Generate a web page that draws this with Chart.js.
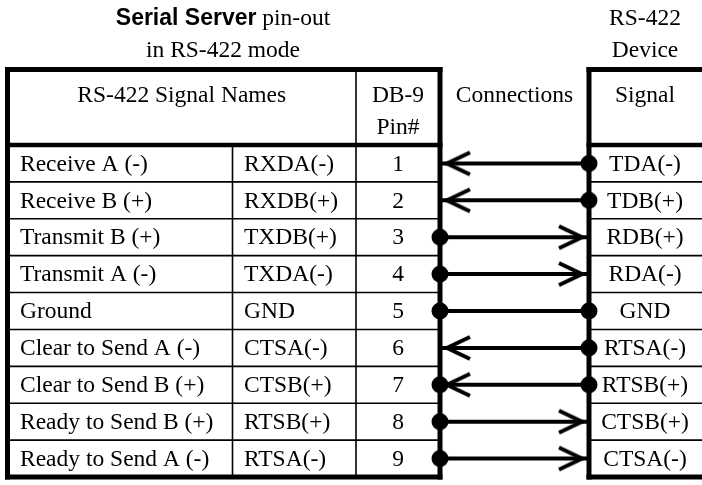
<!DOCTYPE html>
<html><head><meta charset="utf-8">
<script src="https://cdn.jsdelivr.net/npm/chart.js@4"></script>
<style>html,body{margin:0;padding:0;background:#fff}#wrap{width:702px;height:485px}</style>
</head><body><div id="wrap"><canvas id="c" width="702" height="485"></canvas></div>
<script>
// ---- data ----
const pins = ['1','2','3','4','5','6','7','8','9'];
const signalNames = ['Receive A (-)','Receive B (+)','Transmit B (+)','Transmit A (-)','Ground','Clear to Send A (-)','Clear to Send B (+)','Ready to Send B (+)','Ready to Send A (-)'];
const signalCodes = ['RXDA(-)','RXDB(+)','TXDB(+)','TXDA(-)','GND','CTSA(-)','CTSB(+)','RTSB(+)','RTSA(-)'];
const deviceSignals = ['TDA(-)','TDB(+)','RDB(+)','RDA(-)','GND','RTSA(-)','RTSB(+)','CTSB(+)','CTSA(-)'];
const serverEnd = ['arrow','arrow','dot','dot','dot','arrow','dot+arrow','dot','dot'];
const deviceEnd = ['dot','dot','arrow','arrow','dot','dot','dot','arrow','arrow'];
const titleBold = 'Serial Server';
const titleRest = ' pin-out';
const titleLine2 = 'in RS-422 mode';
const deviceTitle = ['RS-422','Device'];
const headNames = 'RS-422 Signal Names';
const headPin = ['DB-9','Pin#'];
const headConn = 'Connections';
const headSignal = 'Signal';

// ---- styles ----
const FS = 23.5;
const SERIF = FS + 'px "Liberation Serif", "Times New Roman", serif';
const SANSB = 'bold 23px "Liberation Sans", Arial, sans-serif';
const THICK = 5, THIN = 1.6;
const X_LEFT = 7.5, X_COL2 = 232.5, X_COL3 = 356, X_RIGHT = 702;
const Y_TOP = 69.5;

function glyph(kind, side) {
  const c = document.createElement('canvas');
  c.width = 80; c.height = 40;
  const g = c.getContext('2d');
  const cx = 40, cy = 20;
  g.fillStyle = '#000'; g.strokeStyle = '#000';
  if (kind.indexOf('dot') >= 0) {
    g.beginPath(); g.arc(cx, cy, 8.5, 0, Math.PI * 2); g.fill();
  }
  if (kind.indexOf('arrow') >= 0) {
    const s = side === 'server' ? 1 : -1;
    const vx = cx + s * 7;
    g.lineWidth = 4; g.lineJoin = 'miter'; g.lineCap = 'butt';
    g.beginPath();
    g.moveTo(vx + s * 23, cy - 11);
    g.lineTo(vx, cy);
    g.lineTo(vx + s * 23, cy + 11);
    g.stroke();
  }
  return c;
}

const datasets = pins.map((p, i) => ({
  data: [{x: 0, y: p}, {x: 1, y: p}],
  borderColor: '#000',
  borderWidth: 4,
  pointStyle: [glyph(serverEnd[i], 'server'), glyph(deviceEnd[i], 'device')],
  pointRadius: 8,
  pointHoverRadius: 8,
  pointBorderWidth: 0,
  backgroundColor: '#000',
  clip: false
}));

const tablePlugin = {
  id: 'table',
  afterDatasetsDraw(chart) {
    const ctx = chart.ctx;
    const a = chart.chartArea;
    const ys = chart.scales.y;
    const band = ys.getPixelForValue(1) - ys.getPixelForValue(0);
    const yBot = a.bottom;
    ctx.save();
    ctx.strokeStyle = '#000';
    ctx.fillStyle = '#000';
    const line = (x1, y1, x2, y2, w) => { ctx.lineWidth = w; ctx.beginPath(); ctx.moveTo(x1, y1); ctx.lineTo(x2, y2); ctx.stroke(); };
    for (let i = 1; i < pins.length; i++) {
      const y = ys.getPixelForValue(i) - band / 2;
      line(X_LEFT, y, a.left, y, THIN);
      line(a.right, y, X_RIGHT, y, THIN);
    }
    line(X_COL2, a.top, X_COL2, yBot, THIN);
    line(X_COL3, Y_TOP, X_COL3, yBot, THIN);
    line(X_LEFT - 2.5, Y_TOP, a.left + 2.5, Y_TOP, THICK);
    line(a.right - 2.5, Y_TOP, X_RIGHT, Y_TOP, THICK);
    line(X_LEFT - 2.5, a.top, a.left + 2.5, a.top, 4.5);
    line(a.right - 2.5, a.top, X_RIGHT, a.top, 4.5);
    line(X_LEFT - 2.5, yBot, a.left + 2.5, yBot, THICK);
    line(a.right - 2.5, yBot, X_RIGHT, yBot, THICK);
    line(X_LEFT, Y_TOP - 2.5, X_LEFT, yBot + 2.5, THICK);
    line(a.left, Y_TOP - 2.5, a.left, yBot + 2.5, THICK);
    line(a.right, Y_TOP - 2.5, a.right, yBot + 2.5, THICK);

    ctx.textBaseline = 'middle';
    const midCol = 645;
    ctx.font = SANSB; const wb = ctx.measureText(titleBold).width;
    ctx.font = SERIF; const wr = ctx.measureText(titleRest).width;
    const tcx = 223;
    let tx = tcx - (wb + wr) / 2;
    ctx.textAlign = 'left';
    ctx.font = SANSB; ctx.fillText(titleBold, tx, 19);
    ctx.font = SERIF; ctx.fillText(titleRest, tx + wb, 19);
    ctx.textAlign = 'center';
    ctx.fillText(titleLine2, tcx, 51);
    ctx.fillText(deviceTitle[0], midCol, 19);
    ctx.fillText(deviceTitle[1], midCol, 51);
    const hy1 = 96, hy2 = 128;
    ctx.fillText(headNames, (X_LEFT + X_COL3) / 2, hy1);
    ctx.fillText(headPin[0], (X_COL3 + a.left) / 2, hy1);
    ctx.fillText(headPin[1], (X_COL3 + a.left) / 2, hy2);
    ctx.fillText(headConn, (a.left + a.right) / 2, hy1);
    ctx.fillText(headSignal, midCol, hy1);
    pins.forEach((p, i) => {
      const y = ys.getPixelForValue(i) + 1;
      ctx.textAlign = 'left';
      ctx.fillText(signalNames[i], 20, y);
      ctx.fillText(signalCodes[i], 244, y);
      ctx.textAlign = 'center';
      ctx.fillText(p, (X_COL3 + a.left) / 2, y);
      ctx.fillText(deviceSignals[i], midCol, y);
    });
    ctx.restore();
  }
};

new Chart(document.getElementById('c'), {
  type: 'line',
  data: { datasets },
  options: {
    responsive: false,
    animation: false,
    devicePixelRatio: 1,
    layout: { padding: { left: 440, right: 113, top: 145, bottom: 4 } },
    plugins: { legend: { display: false }, tooltip: { enabled: false } },
    events: [],
    scales: {
      x: { type: 'linear', min: 0, max: 1, display: false },
      y: { type: 'category', labels: pins, offset: true, display: false }
    }
  },
  plugins: [tablePlugin]
});
</script>
</body></html>
